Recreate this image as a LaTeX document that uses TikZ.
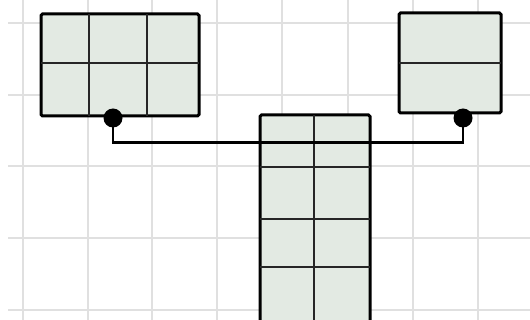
\documentclass[tikz,border=0pt]{standalone}
\begin{document}
\begin{tikzpicture}[x=1pt,y=-1pt,
  gridline/.style={draw=black!12, line width=2pt},
  tbl/.style={draw=black, fill=tblfill, line width=3pt, rounded corners=1.5pt, inner sep=0pt, outer sep=0pt, anchor=north west},
  cell/.style={draw=black!85, line width=1.8pt},
  link/.style={draw=black, line width=2.6pt},
  joint/.style={circle, fill=black, inner sep=0pt, minimum size=19pt}]
\definecolor{tblfill}{HTML}{E3EAE3}
\useasboundingbox (0,0) rectangle (530,320);
\clip (0,0) rectangle (530,320);
% grid
\foreach \gx in {23,88,152,217,282,348,413,478}
  \draw[gridline] (\gx,0) -- (\gx,320);
\foreach \gy in {23,95,166,238,310}
  \draw[gridline] (8,\gy) -- (530,\gy);
% tables
\node[tbl, minimum width=158pt, minimum height=102pt] (L) at (41,14) {};
\node[tbl, minimum width=102pt, minimum height=100pt] (R) at (399,13) {};
\node[tbl, minimum width=110pt, minimum height=215pt] (C) at (260,115) {};
% inner cells
\draw[cell] (L.north west -| 89,0) -- (L.south west -| 89,0);
\draw[cell] (L.north west -| 147,0) -- (L.south west -| 147,0);
\draw[cell] (L.west |- 0,63) -- (L.east |- 0,63);
\draw[cell] (R.west |- 0,63) -- (R.east |- 0,63);
\draw[cell] (C.north -| 314,0) -- (C.south -| 314,0);
\foreach \ry in {167,219,267}
  \draw[cell] (C.west |- 0,\ry) -- (C.east |- 0,\ry);
% connector
\coordinate (jn) at (0,142.5);
\node[joint] (ld) at (113,118) {};
\node[joint] (rd) at (463,118) {};
\draw[link] (ld.center) -- (ld.center |- jn) -- (rd.center |- jn) -- (rd.center);
\end{tikzpicture}
\end{document}
